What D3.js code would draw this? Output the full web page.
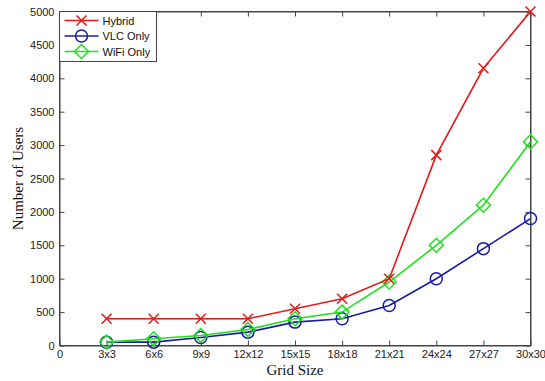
<!DOCTYPE html>
<html>
<head>
<meta charset="utf-8">
<script src="https://cdn.jsdelivr.net/npm/d3@7"></script>
<style>
  html, body { margin: 0; padding: 0; background: #fff; }
  svg { display: block; }
</style>
</head>
<body>
<svg id="chart" width="545" height="381"></svg>
<script>
// Grid sizes along the x axis (position 0 is the bare "0" tick)
const xTickLabels = ["0", "3x3", "6x6", "9x9", "12x12", "15x15", "18x18", "21x21", "24x24", "27x27", "30x30"];
const gridSizes = ["3x3", "6x6", "9x9", "12x12", "15x15", "18x18", "21x21", "24x24", "27x27", "30x30"];
const yTicks = [0, 500, 1000, 1500, 2000, 2500, 3000, 3500, 4000, 4500, 5000];

// Users served per grid size
const hybrid   = [400, 400, 400, 400, 550, 700, 1000, 2850, 4150, 5000];
const vlcOnly  = [50, 50, 120, 200, 350, 400, 600, 1000, 1450, 1900];
const wifiOnly = [50, 100, 150, 240, 400, 500, 950, 1500, 2100, 3050];

const seriesNames = ["Hybrid", "VLC Only", "WiFi Only"];
const seriesColors = ["#e31a1c", "#1a1aa6", "#22e01f"];
const seriesMarkers = ["x", "circle", "diamond"];
const seriesValues = [hybrid, vlcOnly, wifiOnly];

const svg = d3.select("#chart");
const mLeft = 59.5, mRight = 530.5, mTop = 11.5, mBottom = 345.5;

const x = d3.scaleLinear().domain([0, gridSizes.length]).range([mLeft, mRight]);
const y = d3.scaleLinear().domain([0, 5000]).range([mBottom, mTop]);

const axisColor = "#444";
const tickFont = "Liberation Sans, Arial, sans-serif";

// Frame
svg.append("rect")
  .attr("x", mLeft).attr("y", mTop)
  .attr("width", mRight - mLeft).attr("height", mBottom - mTop)
  .attr("fill", "#fff").attr("stroke", axisColor).attr("stroke-width", 1);

// Axes (ticks point inward)
const xIdx = d3.range(0, xTickLabels.length);
const xAxis = d3.axisBottom(x).tickValues(xIdx)
  .tickFormat(i => xTickLabels[i]).tickSizeInner(-5).tickSizeOuter(0).tickPadding(5);
const xAxisTop = d3.axisTop(x).tickValues(xIdx)
  .tickFormat("").tickSizeInner(-5).tickSizeOuter(0);
const yAxis = d3.axisLeft(y).tickValues(yTicks)
  .tickFormat(d3.format("d")).tickSizeInner(-5).tickSizeOuter(0).tickPadding(5);
const yAxisRight = d3.axisRight(y).tickValues(yTicks)
  .tickFormat("").tickSizeInner(-5).tickSizeOuter(0);

function styleAxis(g) {
  g.select(".domain").attr("stroke", axisColor);
  g.selectAll(".tick line").attr("stroke", axisColor);
  g.selectAll(".tick text").attr("fill", "#222")
    .style("font-family", tickFont).style("font-size", "11px");
}
svg.append("g").attr("transform", `translate(0,${mBottom})`).call(xAxis).call(styleAxis);
svg.append("g").attr("transform", `translate(0,${mTop})`).call(xAxisTop).call(styleAxis);
svg.append("g").attr("transform", `translate(${mLeft},0)`).call(yAxis).call(styleAxis);
svg.append("g").attr("transform", `translate(${mRight},0)`).call(yAxisRight).call(styleAxis);

// Axis titles
svg.append("text")
  .attr("x", (mLeft + mRight) / 2).attr("y", 375)
  .attr("text-anchor", "middle")
  .style("font-family", "Liberation Serif, Times New Roman, serif")
  .style("font-size", "15px").attr("fill", "#111")
  .text("Grid Size");
svg.append("text")
  .attr("transform", `translate(23,${(mTop + mBottom) / 2}) rotate(-90)`)
  .attr("text-anchor", "middle")
  .style("font-family", "Liberation Serif, Times New Roman, serif")
  .style("font-size", "15px").attr("fill", "#111")
  .text("Number of Users");

// Marker drawing
function drawMarker(g, type, color, cx, cy) {
  if (type === "x") {
    const s = 5;
    g.append("path")
      .attr("d", `M${cx - s},${cy - s}L${cx + s},${cy + s}M${cx - s},${cy + s}L${cx + s},${cy - s}`)
      .attr("stroke", color).attr("stroke-width", 1.5).attr("fill", "none");
  } else if (type === "circle") {
    g.append("circle").attr("cx", cx).attr("cy", cy).attr("r", 6)
      .attr("stroke", color).attr("stroke-width", 1.5).attr("fill", "none");
  } else {
    const s = 7;
    g.append("path")
      .attr("d", `M${cx},${cy - s}L${cx + s},${cy}L${cx},${cy + s}L${cx - s},${cy}Z`)
      .attr("stroke", color).attr("stroke-width", 1.5).attr("fill", "none");
  }
}

// Series lines and markers (VLC first, WiFi over it, Hybrid on top)
const line = d3.line().x((d, i) => x(i + 1)).y(d => y(d));
const order = [1, 2, 0];
order.forEach(k => {
  const g = svg.append("g");
  g.append("path").datum(seriesValues[k])
    .attr("d", line).attr("fill", "none")
    .attr("stroke", seriesColors[k]).attr("stroke-width", 1.6);
  seriesValues[k].forEach((v, i) => drawMarker(g, seriesMarkers[k], seriesColors[k], x(i + 1), y(v)));
});

// Legend
const lg = svg.append("g");
lg.append("rect").attr("x", mLeft).attr("y", mTop).attr("width", 97).attr("height", 50)
  .attr("fill", "#fff").attr("stroke", axisColor);
seriesNames.forEach((name, k) => {
  const ly = mTop + 9 + k * 15.5;
  lg.append("line").attr("x1", mLeft + 5).attr("x2", mLeft + 39).attr("y1", ly).attr("y2", ly)
    .attr("stroke", seriesColors[k]).attr("stroke-width", 1.6);
  drawMarker(lg, seriesMarkers[k], seriesColors[k], mLeft + 22, ly);
  lg.append("text").attr("x", mLeft + 43).attr("y", ly + 4)
    .style("font-family", tickFont).style("font-size", "11px").attr("fill", "#111")
    .text(name);
});
</script>
</body>
</html>
